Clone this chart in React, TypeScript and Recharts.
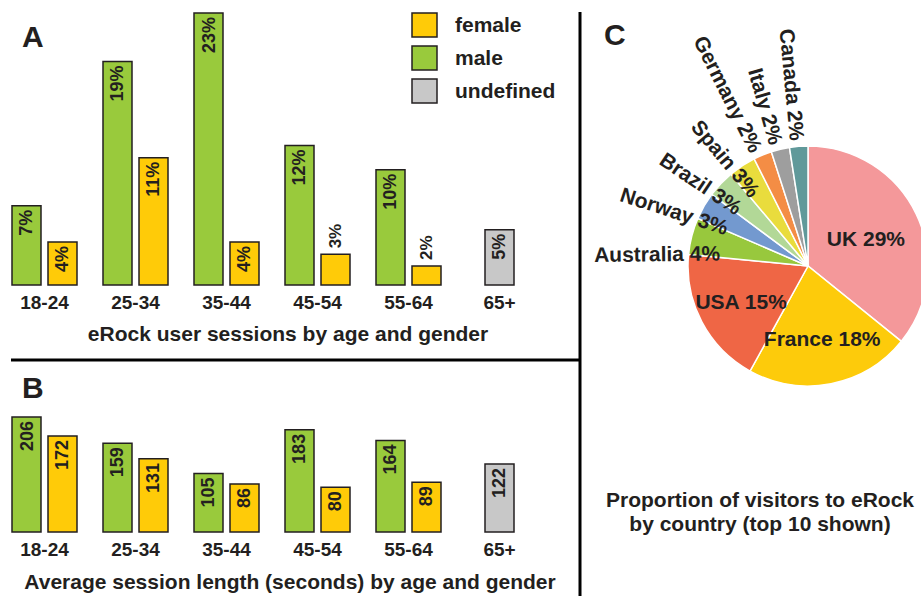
import { BarChart, Bar, XAxis, YAxis, LabelList, PieChart, Pie, Cell } from 'recharts';

const ageGroups = ['18-24', '25-34', '35-44', '45-54', '55-64', '65+'];

// share of user sessions (%); labels show rounded values
const sessionMale = [6.7, 18.9, 23.0, 11.8, 9.75, null];
const sessionFemale = [3.63, 10.76, 3.63, 2.59, 1.6, null];
const sessionUndefined = [null, null, null, null, null, 4.68];

// average session length (seconds)
const lengthMale = [206, 159, 105, 183, 164, null];
const lengthFemale = [172, 131, 86, 80, 89, null];
const lengthUndefined = [null, null, null, null, null, 122];

const countries = ['UK', 'France', 'USA', 'Australia', 'Norway', 'Brazil', 'Spain', 'Germany', 'Italy', 'Canada'];
const countryShare = [29, 18, 15, 4, 3, 3, 3, 2, 2, 2];

const legendLabels = ['female', 'male', 'undefined'];

const GREEN = '#99ca3c';
const YELLOW = '#ffcb08';
const GREY = '#c8c8c8';
const INK = '#231f20';
const FONT = '"Liberation Sans", Arial, sans-serif';

const legendColors = [YELLOW, GREEN, GREY];
const pieColors = ['#f4989a', '#fdcb0b', '#ef6645', '#98c83d', '#7399cf', '#b2d897', '#e9dc3d', '#f48d45', '#9e9e9e', '#60999a'];

const sessionData = ageGroups.map((age, i) => ({
  age,
  male: sessionMale[i],
  female: sessionFemale[i],
  undef: sessionUndefined[i],
}));

const lengthData = ageGroups.map((age, i) => ({
  age,
  male: lengthMale[i],
  female: lengthFemale[i],
  undef: lengthUndefined[i],
}));

const countryData = countries.map((name, i) => ({ name, value: countryShare[i] }));
const shareTotal = countryShare.reduce((a, b) => a + b, 0);

const RAD = Math.PI / 180;

function makeBarLabel(suffix: string) {
  return (props: any) => {
    const vb = props.viewBox || {};
    const x = props.x ?? vb.x;
    const y = props.y ?? vb.y;
    const width = props.width ?? vb.width;
    const height = props.height ?? vb.height;
    const value = props.value;
    if (value == null || x == null) return null;
    const cx = x + width / 2;
    const text = `${Math.round(value)}${suffix}`;
    if (height < 40) {
      const ay = y - 6;
      return (
        <text x={cx} y={ay} transform={`rotate(-90, ${cx}, ${ay})`} textAnchor="start" dominantBaseline="central"
          fontFamily={FONT} fontWeight="bold" fontSize={17} fill={INK}>
          {text}
        </text>
      );
    }
    const ay = y + 4;
    return (
      <text x={cx} y={ay} transform={`rotate(-90, ${cx}, ${ay})`} textAnchor="end" dominantBaseline="central"
        fontFamily={FONT} fontWeight="bold" fontSize={18} fill={INK}>
        {text}
      </text>
    );
  };
}

const AgeTick = (props: any) => {
  const { x, y, payload } = props;
  return (
    <text x={x} y={y + 24} textAnchor="middle" fontFamily={FONT} fontWeight="bold" fontSize={19} fill={INK}>
      {payload.value}
    </text>
  );
};

function pieLabel(props: any) {
  const { cx, cy, midAngle, outerRadius, name, value } = props;
  const mid = ((midAngle % 360) + 360) % 360;
  const text = `${name} ${value}%`;
  const common = { fontFamily: FONT, fontWeight: 'bold' as const, fontSize: 21, fill: INK };
  if (value >= 10) {
    // sector centroid
    const half = (value / shareTotal) * Math.PI;
    const r = (2 * outerRadius * Math.sin(half)) / (3 * half);
    const x = cx + r * Math.cos(-mid * RAD);
    const y = cy + r * Math.sin(-mid * RAD);
    return (
      <text x={x} y={y} textAnchor="middle" dominantBaseline="central" {...common}>
        {text}
      </text>
    );
  }
  // small slices: fanned-out labels reading towards the centre
  const r = outerRadius * (value > 2 ? 0.74 : 1.05);
  const pos = 90 + (mid - 90) * 1.08;
  const x = cx + r * Math.cos(-pos * RAD);
  const y = cy + r * Math.sin(-pos * RAD);
  const angle = 90 - (mid - 90) * 1.2;
  return (
    <text x={x} y={y} textAnchor="end" dominantBaseline="central" transform={`rotate(${angle}, ${x}, ${y})`} {...common}>
      {text}
    </text>
  );
}

function GenderBars({ data, max, suffix, top, height, marginTop }: any) {
  return (
    <div style={{ position: 'absolute', left: -1, top }}>
      <BarChart width={546} height={height} data={data} margin={{ top: marginTop, right: 0, bottom: 0, left: 0 }}
        barSize={29} barGap={7}>
        <XAxis dataKey="age" axisLine={false} tickLine={false} tickSize={0} tickMargin={0} height={35} tick={<AgeTick />} interval={0} />
        <XAxis xAxisId="u" dataKey="age" hide />
        <YAxis hide domain={[0, max]} />
        <Bar dataKey="male" fill={GREEN} stroke={INK} strokeWidth={1.5} isAnimationActive={false}>
          <LabelList dataKey="male" content={makeBarLabel(suffix)} />
        </Bar>
        <Bar dataKey="female" fill={YELLOW} stroke={INK} strokeWidth={1.5} isAnimationActive={false}>
          <LabelList dataKey="female" content={makeBarLabel(suffix)} />
        </Bar>
        <Bar dataKey="undef" xAxisId="u" fill={GREY} stroke={INK} strokeWidth={1.5} isAnimationActive={false}>
          <LabelList dataKey="undef" content={makeBarLabel(suffix)} />
        </Bar>
      </BarChart>
    </div>
  );
}

export default function App() {
  const txt = { fontFamily: FONT, fontWeight: 'bold' as const, fill: INK };
  return (
    <div style={{ position: 'absolute', left: 0, top: 0, width: 921, height: 596, background: '#fff', overflow: 'hidden' }}>
      <svg width={921} height={596} style={{ position: 'absolute', left: 0, top: 0 }}>
        <text x={22} y={47} fontSize={30} {...txt}>A</text>
        <text x={22} y={398} fontSize={30} {...txt}>B</text>
        <text x={604} y={45} fontSize={30} {...txt}>C</text>
        <text x={288} y={341} fontSize={21} textAnchor="middle" {...txt}>eRock user sessions by age and gender</text>
        <text x={290} y={589} fontSize={21} textAnchor="middle" {...txt}>Average session length (seconds) by age and gender</text>
        <text x={760} y={507} fontSize={21} textAnchor="middle" {...txt}>Proportion of visitors to eRock</text>
        <text x={760} y={531} fontSize={21} textAnchor="middle" {...txt}>by country (top 10 shown)</text>
        {legendLabels.map((label, i) => (
          <g key={label}>
            <rect x={412} y={13 + i * 33} width={25} height={24} fill={legendColors[i]} stroke={INK} strokeWidth={1.5} />
            <text x={455} y={32 + i * 33} fontSize={21} {...txt}>{label}</text>
          </g>
        ))}
        <rect x={11} y={358.5} width={570} height={3} fill="#000" />
        <rect x={578.5} y={12} width={3} height={584} fill="#000" />
      </svg>

      <GenderBars data={sessionData} max={23} suffix="%" top={0} height={320} marginTop={13} />
      <GenderBars data={lengthData} max={206} suffix="" top={400} height={167} marginTop={17} />

      <div style={{ position: 'absolute', left: 580, top: 0 }}>
        <PieChart width={341} height={400} margin={{ top: 0, right: 0, bottom: 0, left: 0 }}>
          <Pie data={countryData} dataKey="value" nameKey="name" cx={228} cy={266} outerRadius={120}
            startAngle={90} endAngle={-270} stroke="#fff" strokeWidth={1.5} labelLine={false} label={pieLabel}
            isAnimationActive={false}>
            {countryData.map((d, i) => (
              <Cell key={d.name} fill={pieColors[i]} />
            ))}
          </Pie>
        </PieChart>
      </div>
    </div>
  );
}
